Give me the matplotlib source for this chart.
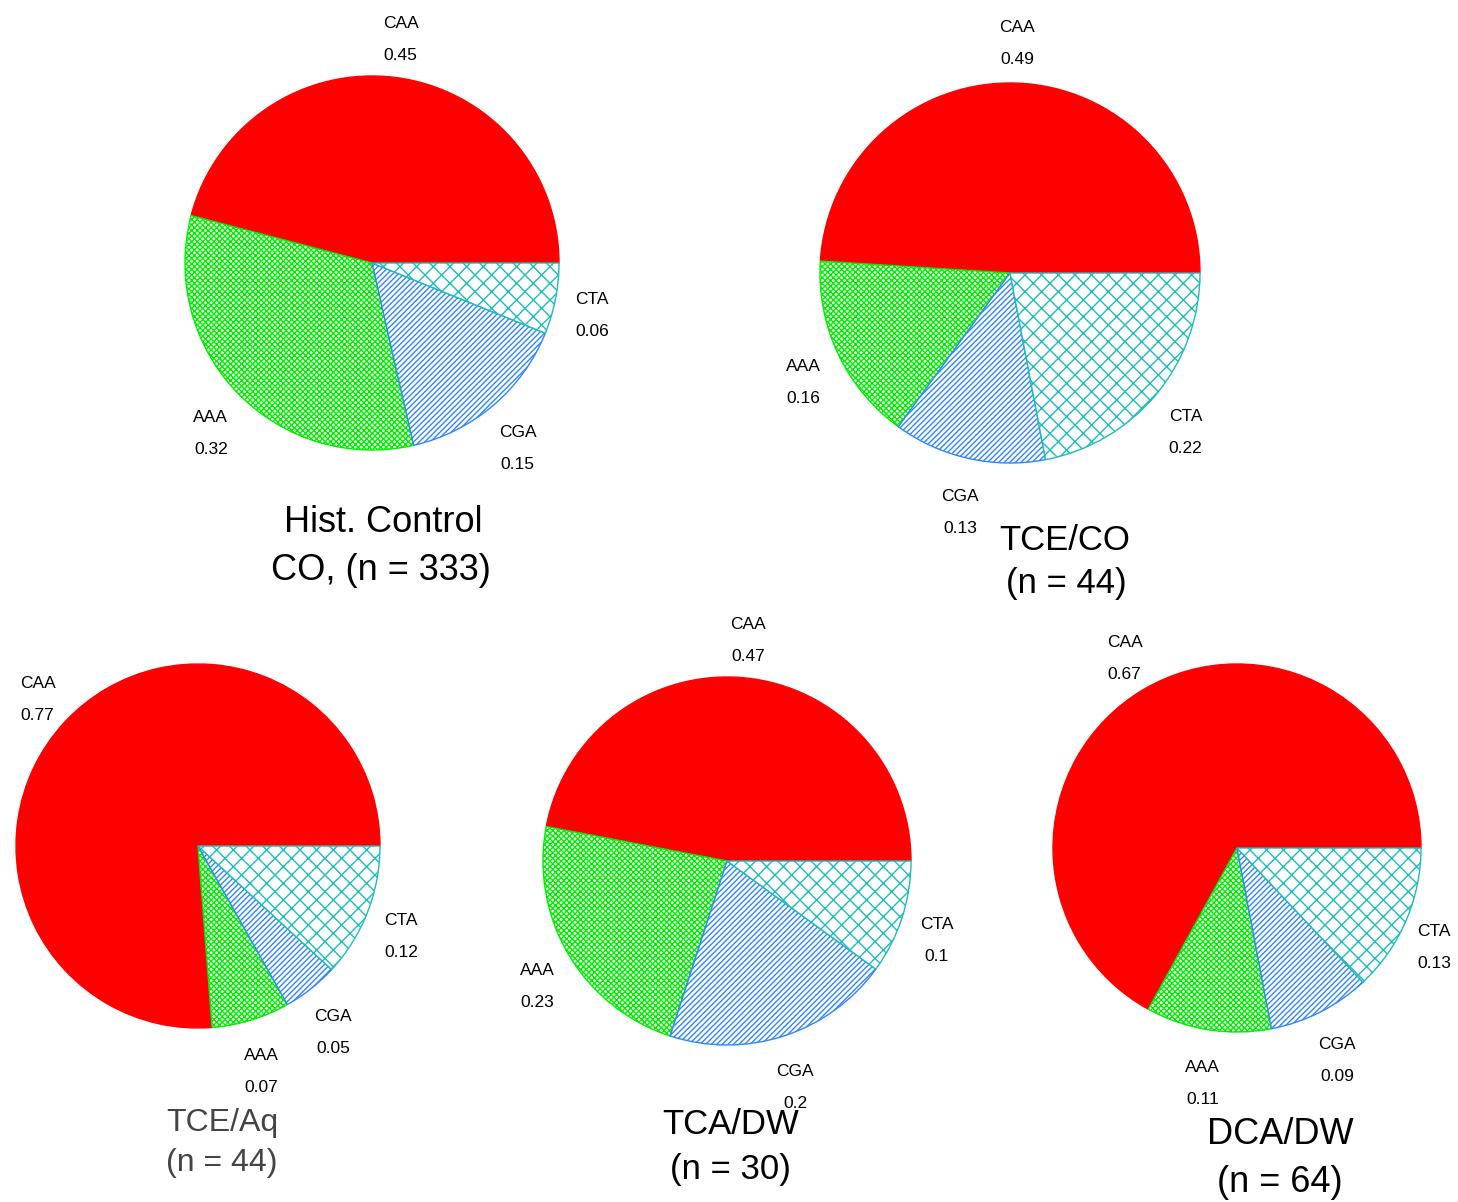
import numpy as np
import matplotlib.pyplot as plt

plt.rcParams['font.family'] = ['Liberation Sans', 'DejaVu Sans']
plt.rcParams['hatch.linewidth'] = 1.0

# data
codons = ['CAA', 'AAA', 'CGA', 'CTA']
hist_control = [0.45, 0.32, 0.15, 0.06]
tce_co = [0.49, 0.16, 0.13, 0.22]
tce_aq = [0.77, 0.07, 0.05, 0.12]
tca_dw = [0.47, 0.23, 0.2, 0.1]
dca_dw = [0.67, 0.11, 0.09, 0.13]
groups = [hist_control, tce_co, tce_aq, tca_dw, dca_dw]
titles = [('Hist. Control', 'CO, (n = 333)'),
          ('TCE/CO', '(n = 44)'),
          ('TCE/Aq', '(n = 44)'),
          ('TCA/DW', '(n = 30)'),
          ('DCA/DW', '(n = 64)')]

# styles
face = ['#ff0000', 'white', 'white', 'white']
edge = ['#ff0000', '#00ee00', '#2f86ff', '#1cbcbc']
hatches = [None, 'xxxxxx', '//////', 'xx']

# layout in pixels (x, y from top)
W, H = 1458, 1202
centers = [(372, 263), (1010, 273), (198, 846), (727, 861), (1237, 848)]
radii = [187, 190, 182, 184, 184]
title_pos = [((383, 522), (381, 570)),
             ((1065, 541), (1066, 583)),
             ((222, 1123), (222, 1163)),
             ((731, 1125), (730, 1170)),
             ((1280, 1135), (1280, 1183))]
title_size = [26, 25, 23, 25, 26]
title_color = ['black', 'black', '#444444', 'black', 'black']

fig = plt.figure(figsize=(W / 100, H / 100), dpi=100)
ax = fig.add_axes([0, 0, 1, 1])

for vals, (cx, cy), r, tpos, ts, tc, tt in zip(groups, centers, radii, title_pos,
                                               title_size, title_color, titles):
    c = (cx, H - cy)
    wedges, _ = ax.pie(vals, colors=face, startangle=0, counterclock=True,
                       center=c, radius=r, frame=True,
                       wedgeprops=dict(linewidth=1.0))
    for w, ec, h in zip(wedges, edge, hatches):
        w.set_edgecolor(ec)
        if h:
            w.set_hatch(h)

    fr = np.array(vals) / np.sum(vals)
    start = np.concatenate([[0], np.cumsum(fr)[:-1]])
    mids = 2 * np.pi * (start + fr / 2)
    for name, v, a in zip(codons, vals, mids):
        lx = min(c[0] + 1.2 * r * np.cos(a), W - 24)
        ly = c[1] + 1.25 * r * np.sin(a) - 8
        ax.text(lx, ly + 16, name, ha='center', va='center', fontsize=12.5)
        ax.text(lx, ly - 16, str(v), ha='center', va='center', fontsize=12.5)

    for (tx, ty), line in zip(tpos, tt):
        ax.text(tx, H - ty, line, ha='center', va='center', fontsize=ts, color=tc)

ax.set_xlim(0, W)
ax.set_ylim(0, H)
ax.set_aspect('equal')
ax.set_axis_off()

fig.savefig('out.png', dpi=100)
